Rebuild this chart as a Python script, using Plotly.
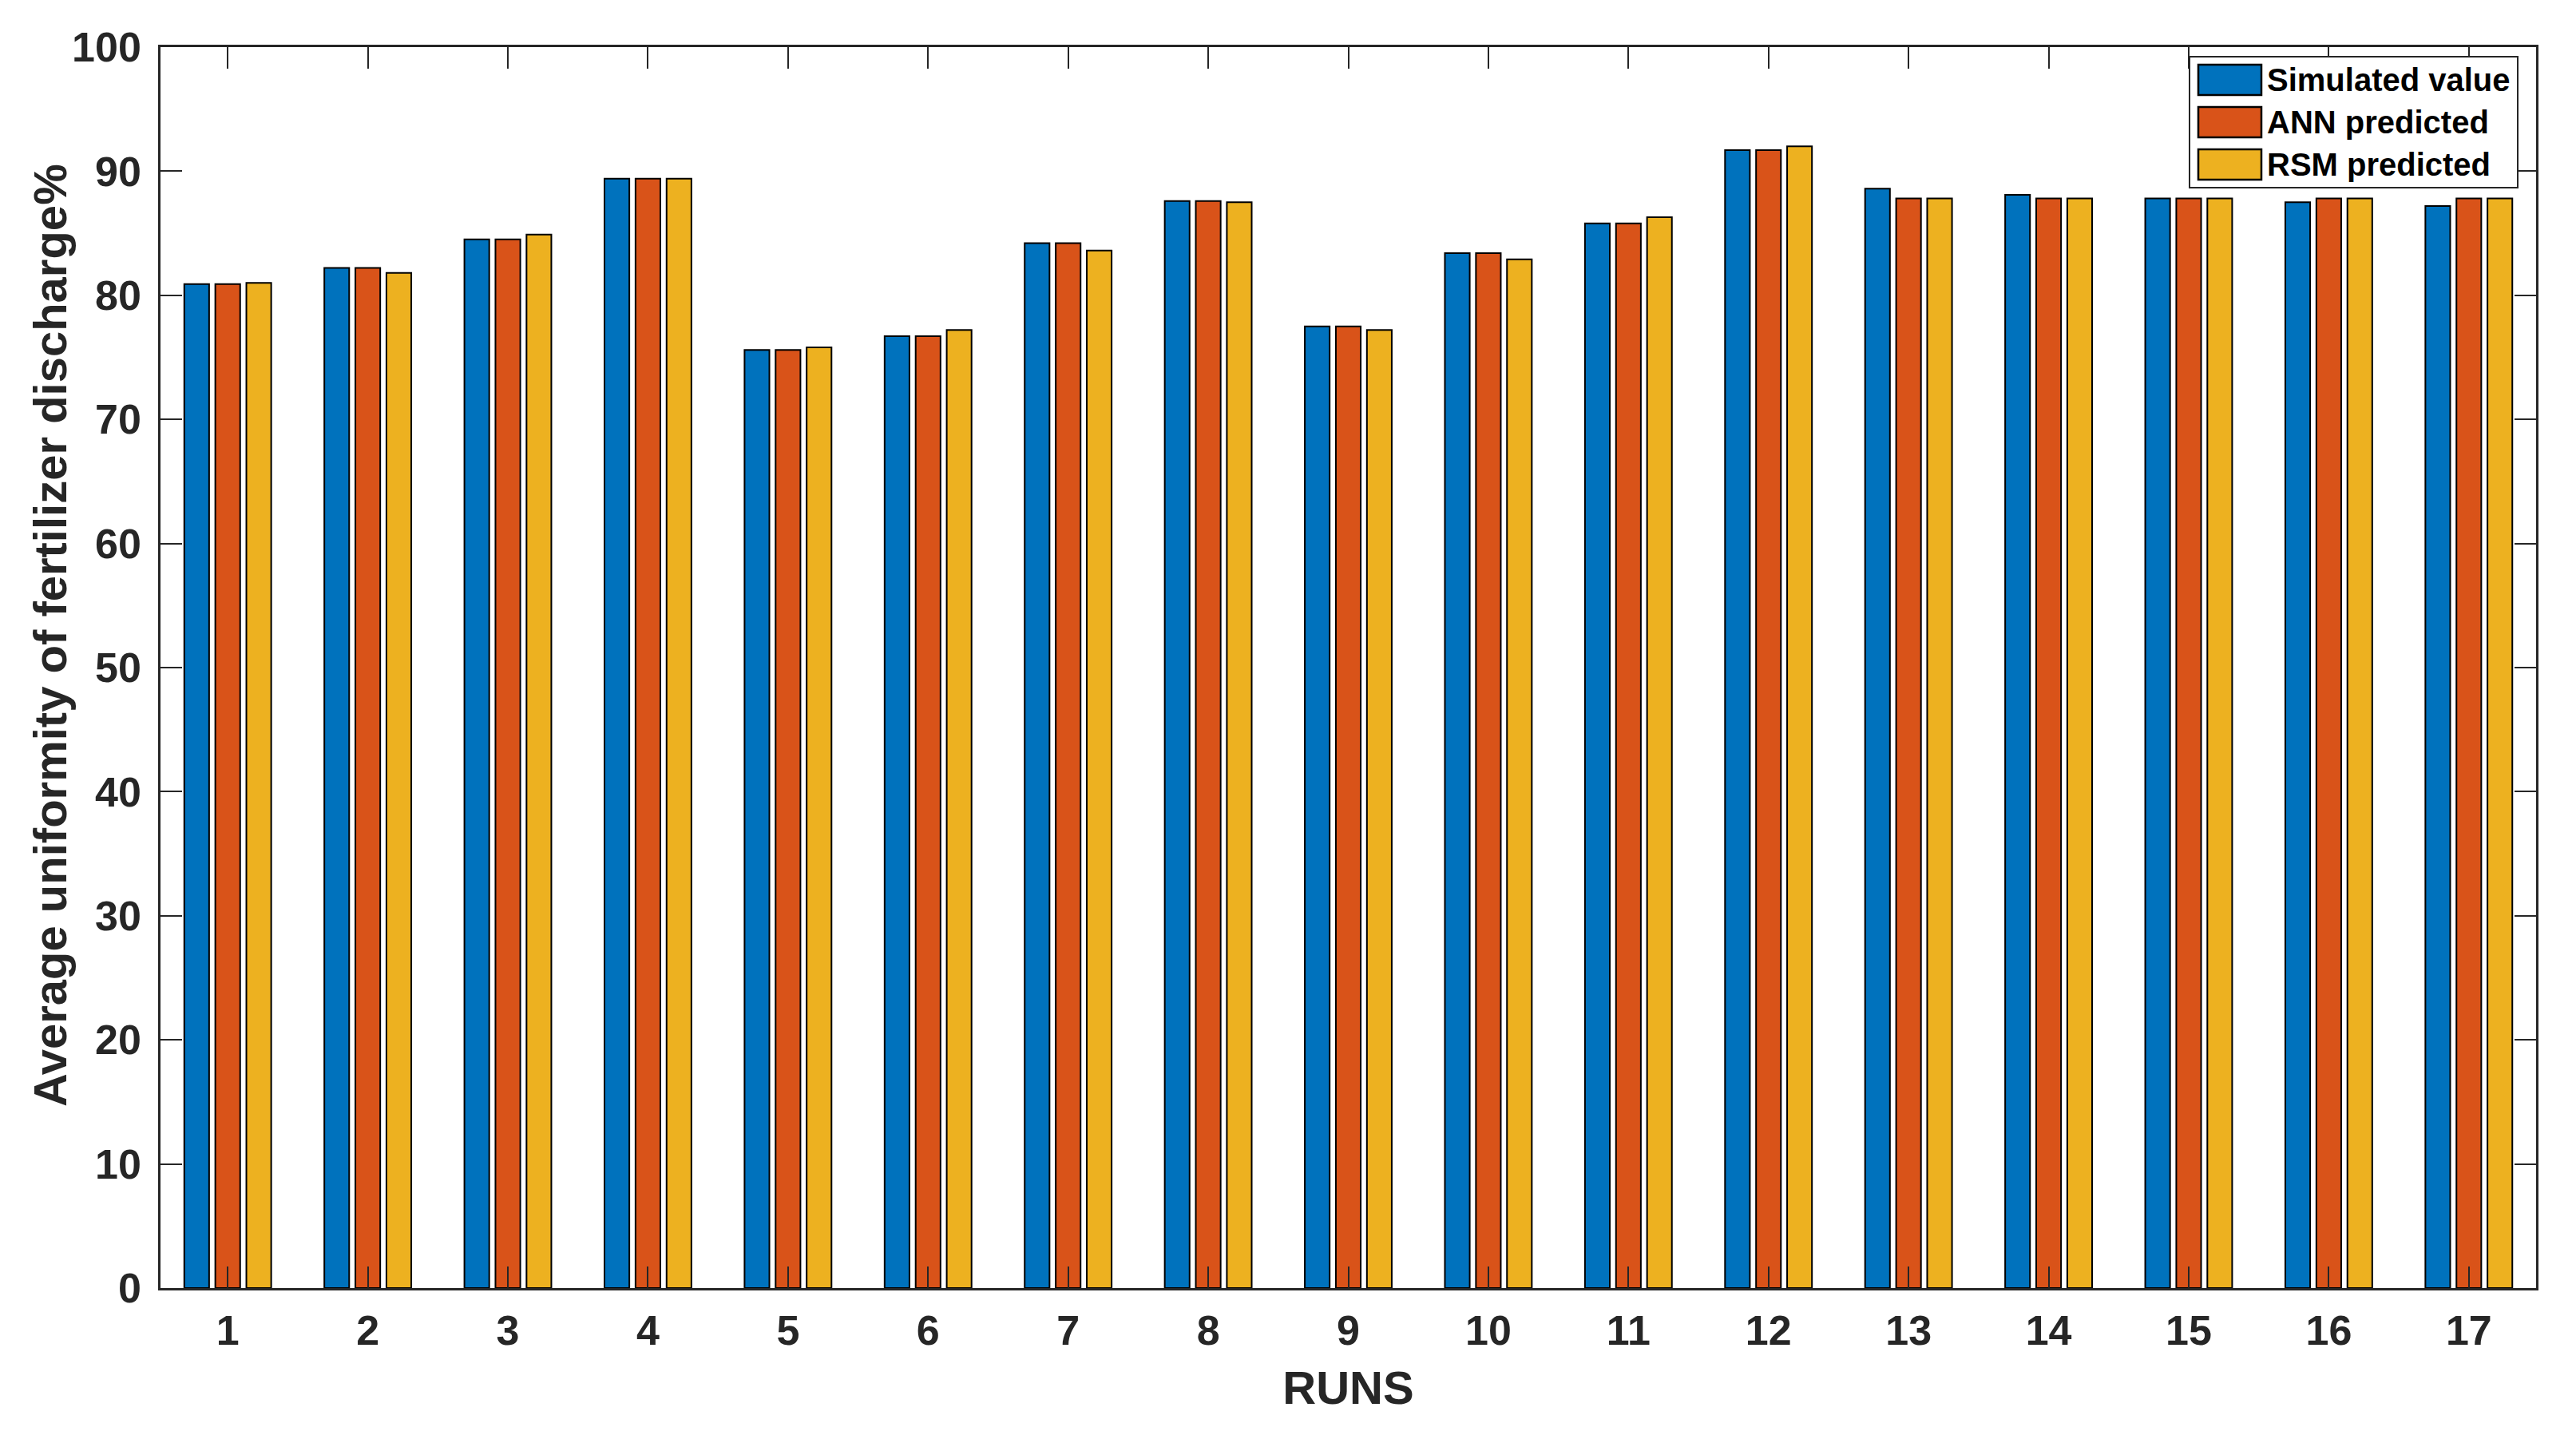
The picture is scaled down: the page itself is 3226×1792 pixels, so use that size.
import plotly.graph_objects as go

runs = list(range(1, 18))
series_names = ["Simulated value", "ANN predicted", "RSM predicted"]
simulated = [80.9, 82.2, 84.5, 89.4, 75.6, 76.7, 84.2, 87.6, 77.5, 83.4, 85.8, 91.7, 88.6, 88.1, 87.8, 87.5, 87.2]
ann_pred = [80.9, 82.2, 84.5, 89.4, 75.6, 76.7, 84.2, 87.6, 77.5, 83.4, 85.8, 91.7, 87.8, 87.8, 87.8, 87.8, 87.8]
rsm_pred = [81.0, 81.8, 84.9, 89.4, 75.8, 77.2, 83.6, 87.5, 77.2, 82.9, 86.3, 92.0, 87.8, 87.8, 87.8, 87.8, 87.8]
y_ticks = [0, 10, 20, 30, 40, 50, 60, 70, 80, 90, 100]

colors = ["#0072BD", "#D95319", "#EDB120"]
TXT = "#262626"
FONT = "Liberation Sans"

W, H = 3226, 1792
L, R, T, B = 201, 50, 59, 179

fig = go.Figure()
for name, vals, col in zip(series_names, [simulated, ann_pred, rsm_pred], colors):
    fig.add_trace(go.Bar(x=runs, y=vals, name=name, marker=dict(color=col, line=dict(color="black", width=2)),
                         showlegend=False))

axis_common = dict(showline=True, linecolor=TXT, linewidth=2.5, mirror="ticks", ticks="inside",
                   ticklen=27, tickwidth=2, tickcolor=TXT, showgrid=False, zeroline=False,
                   tickfont=dict(family=FONT, size=52, color=TXT, weight="bold"))

fig.update_layout(
    width=W, height=H,
    margin=dict(l=L, r=R, t=T, b=B, autoexpand=False),
    paper_bgcolor="white", plot_bgcolor="white",
    barmode="group", bargap=0.335, bargroupgap=0.2,
    xaxis=dict(range=[0.52, 17.48], tickvals=runs, ticktext=[str(r) for r in runs],
               ticklabelstandoff=6,
               title=dict(text="RUNS", font=dict(family=FONT, size=58, color=TXT, weight="bold"), standoff=24),
               **axis_common),
    yaxis=dict(range=[0, 100], tickvals=y_ticks, ticklabelstandoff=11, **axis_common),
)

plot_w = W - L - R
plot_h = H - T - B
def px_x(px):
    return (px - L) / plot_w
def px_y(py):
    return (H - B - py) / plot_h

fig.add_annotation(text="Average uniformity of fertilizer discharge%", xref="paper", yref="paper",
                   x=px_x(62), y=px_y(796), textangle=-90, showarrow=False,
                   xanchor="center", yanchor="middle",
                   font=dict(family=FONT, size=58, color=TXT, weight="bold"))

fig.add_shape(type="rect", xref="paper", yref="paper", x0=px_x(2742), x1=px_x(3153), y0=px_y(235), y1=px_y(71),
              line=dict(color=TXT, width=2), fillcolor="white", layer="above")
row_centers = [100, 153, 206]
for name, col, cy in zip(series_names, colors, row_centers):
    fig.add_shape(type="rect", xref="paper", yref="paper", x0=px_x(2753), x1=px_x(2832),
                  y0=px_y(cy + 19), y1=px_y(cy - 19), line=dict(color="black", width=2.5),
                  fillcolor=col, layer="above")
    fig.add_annotation(text=name, xref="paper", yref="paper", x=px_x(2837), y=px_y(cy),
                       xanchor="left", yanchor="middle", showarrow=False,
                       font=dict(family=FONT, size=40, color="black", weight="bold"))

fig.write_html("out.html", config={"displayModeBar": False},
               post_script="document.body.style.margin='0';document.body.style.overflow='hidden';")
